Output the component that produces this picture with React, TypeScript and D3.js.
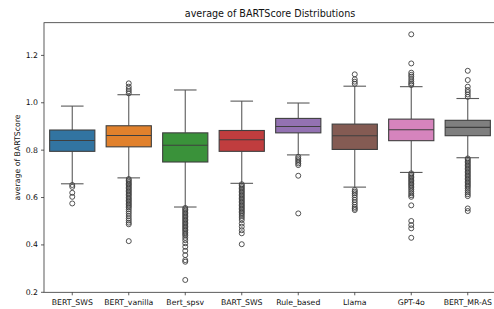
import React from 'react';
import * as d3 from 'd3';

// categories and box statistics
const models = ['BERT_SWS', 'BERT_vanilla', 'Bert_spsv', 'BART_SWS', 'Rule_based', 'Llama', 'GPT-4o', 'BERT_MR-AS'];
const colors = ['#3274a1', '#e1812c', '#3a923a', '#c03d3e', '#9372b2', '#845b53', '#d684bd', '#7f7f7f'];
const whiskerLow = [0.658, 0.683, 0.56, 0.66, 0.78, 0.644, 0.706, 0.768];
const q1 = [0.795, 0.814, 0.75, 0.795, 0.873, 0.803, 0.84, 0.861];
const median = [0.841, 0.862, 0.821, 0.844, 0.9, 0.861, 0.886, 0.896];
const q3 = [0.885, 0.903, 0.873, 0.883, 0.934, 0.91, 0.931, 0.926];
const whiskerHigh = [0.986, 1.034, 1.054, 1.007, 0.999, 1.07, 1.068, 1.018];

const outBertSws = [0.653, 0.645, 0.62, 0.603, 0.575];
const outBertVanilla = [1.082, 1.068, 1.058, 1.049, 1.04,
  0.678, 0.672, 0.666, 0.66, 0.655, 0.649, 0.643, 0.637, 0.631, 0.625, 0.619, 0.613, 0.607, 0.6, 0.594,
  0.588, 0.582, 0.576, 0.57, 0.564, 0.558, 0.55, 0.541, 0.532, 0.522, 0.512, 0.503, 0.494, 0.487, 0.416];
const outBertSpsv = [0.556, 0.55, 0.544, 0.538, 0.532, 0.526, 0.52, 0.514, 0.508, 0.502, 0.496, 0.49,
  0.484, 0.478, 0.472, 0.466, 0.46, 0.453, 0.446, 0.44, 0.43, 0.42, 0.407, 0.392, 0.375, 0.357, 0.336, 0.329, 0.252];
const outBartSws = [0.656, 0.65, 0.644, 0.638, 0.632, 0.626, 0.62, 0.614, 0.608, 0.602, 0.596, 0.59, 0.584,
  0.578, 0.572, 0.566, 0.56, 0.554, 0.548, 0.542, 0.536, 0.53, 0.522, 0.514, 0.505, 0.49, 0.477, 0.462, 0.449, 0.403];
const outRuleBased = [0.772, 0.765, 0.758, 0.751, 0.744, 0.737, 0.692, 0.533];
const outLlama = [1.12, 1.099, 1.089, 1.08,
  0.632, 0.625, 0.618, 0.61, 0.6, 0.59, 0.58, 0.57, 0.56, 0.553, 0.547];
const outGpt4o = [1.289, 1.166, 1.127, 1.118, 1.11, 1.1, 1.09, 1.082, 1.075,
  0.702, 0.696, 0.69, 0.684, 0.678, 0.672, 0.666, 0.66, 0.654, 0.648, 0.641, 0.634, 0.626, 0.618, 0.61, 0.603,
  0.567, 0.501, 0.484, 0.47, 0.43];
const outBertMrAs = [1.135, 1.096, 1.068, 1.054, 1.045, 1.035, 1.025,
  0.765, 0.759, 0.753, 0.747, 0.741, 0.735, 0.729, 0.723, 0.717, 0.711, 0.705, 0.699, 0.693, 0.687, 0.681,
  0.675, 0.669, 0.663, 0.657, 0.651, 0.645, 0.638, 0.63, 0.622, 0.614, 0.606, 0.554, 0.543];
const outliers = [outBertSws, outBertVanilla, outBertSpsv, outBartSws, outRuleBased, outLlama, outGpt4o, outBertMrAs];

const yTicks = [0.2, 0.4, 0.6, 0.8, 1.0, 1.2];

const W = 494;
const H = 309;
const margin = { top: 22.7, left: 44, bottom: 292.3, right: 496 };
const font = 'DejaVu Sans, sans-serif';

export default function App() {
  const x = d3.scaleBand().domain(models).range([margin.left, margin.right]).padding(0);
  const y = d3.scaleLinear().domain([0.2, 1.338]).range([margin.bottom, margin.top]);
  const bw = x.bandwidth() * 0.8;
  const line = '#3f3f3f';
  const whisker = '#5a5a5a';

  return (
    <svg width={W} height={H} style={{ position: 'absolute', left: 0, top: 0, background: '#fff' }}>
      <text x={270} y={17} textAnchor="middle" fontFamily={font} fontSize={9.6} fill="#111">
        average of BARTScore Distributions
      </text>

      {models.map((m, i) => {
        const cx = (x(m) as number) + x.bandwidth() / 2;
        return (
          <g key={m}>
            <line x1={cx} x2={cx} y1={y(q3[i])} y2={y(whiskerHigh[i])} stroke={whisker} strokeWidth={1.1} />
            <line x1={cx} x2={cx} y1={y(q1[i])} y2={y(whiskerLow[i])} stroke={whisker} strokeWidth={1.1} />
            <line x1={cx - bw / 4} x2={cx + bw / 4} y1={y(whiskerHigh[i])} y2={y(whiskerHigh[i])} stroke={whisker} strokeWidth={1.1} />
            <line x1={cx - bw / 4} x2={cx + bw / 4} y1={y(whiskerLow[i])} y2={y(whiskerLow[i])} stroke={whisker} strokeWidth={1.1} />
            <rect x={cx - bw / 2} y={y(q3[i])} width={bw} height={y(q1[i]) - y(q3[i])}
              fill={colors[i]} stroke={line} strokeWidth={1.1} />
            <line x1={cx - bw / 2} x2={cx + bw / 2} y1={y(median[i])} y2={y(median[i])} stroke={line} strokeWidth={1.1} />
            {outliers[i].map((v, j) => (
              <circle key={j} cx={cx} cy={y(v)} r={2.5} fill="none" stroke={line} strokeWidth={0.9} />
            ))}
          </g>
        );
      })}

      {/* spines */}
      <rect x={margin.left} y={margin.top} width={margin.right - margin.left} height={margin.bottom - margin.top}
        fill="none" stroke="#333" strokeWidth={0.8} />

      {yTicks.map(t => (
        <g key={t}>
          <line x1={margin.left - 3} x2={margin.left} y1={y(t)} y2={y(t)} stroke="#333" strokeWidth={0.8} />
          <text x={margin.left - 6} y={y(t)} dy="0.32em" textAnchor="end" fontFamily={font} fontSize={7.75} fill="#111">
            {t.toFixed(1)}
          </text>
        </g>
      ))}

      {models.map(m => {
        const cx = (x(m) as number) + x.bandwidth() / 2;
        return (
          <g key={m}>
            <line x1={cx} x2={cx} y1={margin.bottom} y2={margin.bottom + 3} stroke="#333" strokeWidth={0.8} />
            <text x={cx} y={margin.bottom + 12.5} textAnchor="middle" fontFamily={font} fontSize={7.75} fill="#111">
              {m}
            </text>
          </g>
        );
      })}

      <text transform={`translate(17,${(margin.top + margin.bottom) / 2}) rotate(-90)`} textAnchor="middle"
        dy="0.35em" fontFamily={font} fontSize={7.75} fill="#111">
        average of BARTScore
      </text>
    </svg>
  );
}
